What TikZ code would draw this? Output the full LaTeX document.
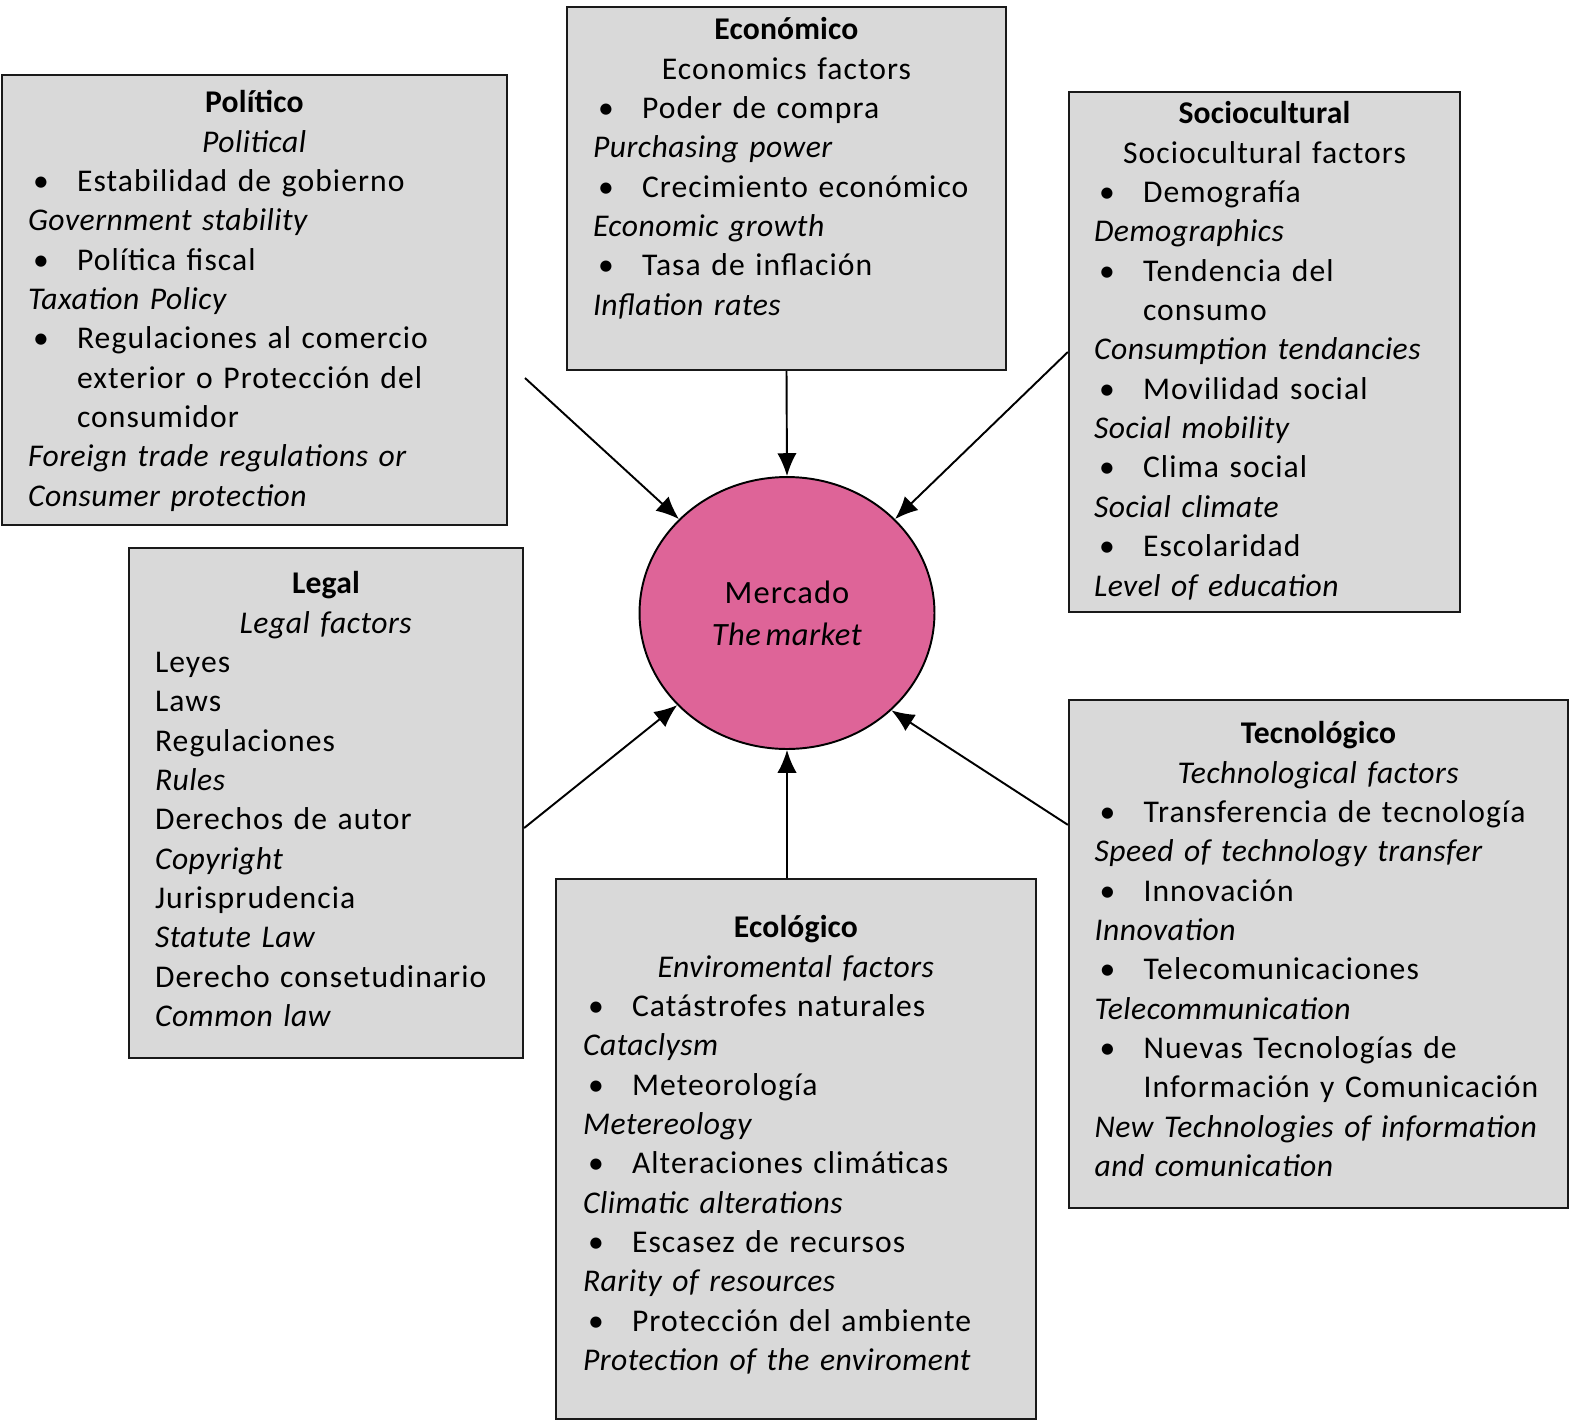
\documentclass[tikz,border=0pt]{standalone}
\usepackage{fontspec}
\setmainfont{Carlito}[UprightFeatures={LetterSpace=3.4},ItalicFeatures={LetterSpace=1.6},
  BoldFeatures={LetterSpace=0.5},WordSpace=0.6]
\usetikzlibrary{arrows.meta,shapes.geometric,fit}
\setlength{\parindent}{0pt}

\definecolor{boxgray}{RGB}{217,217,217}
\definecolor{marketpink}{RGB}{222,100,152}

% heading, bullet item and english line inside a factor box
\newcommand{\hdr}[2]{{\centering\strut\textbf{#1}\\#2\par}\raggedright}
\newcommand{\bul}[1]{\par\hangindent=0.98cm\hangafter=1\makebox[0.98cm][l]{\hspace{0.1cm}•}#1\par}
\newcommand{\eng}[1]{\textit{#1}\par}

\tikzset{
  factor/.style={draw=black!90,line width=1.3pt,fill=boxgray,inner sep=0pt},
  factortext/.style={inner sep=0pt,anchor=north,font=\fontsize{18}{22.4}\selectfont},
  pull/.style={-{Latex[length=13pt,width=11pt]},line width=1.1pt}
}

\begin{document}
\begin{tikzpicture}[x=0.02cm,y=-0.02cm]
\useasboundingbox (0,0) rectangle (1575,1424);

% boxes
\node[factor,fit={(2,75) (507,525)}] (pol) {};
\node[factor,fit={(567,7) (1006,370)}] (econ) {};
\node[factor,fit={(1069,92) (1460,612)}] (soc) {};
\node[factor,fit={(129,548) (523,1058)}] (leg) {};
\node[factor,fit={(1069,700) (1568,1208)}] (tec) {};
\node[factor,fit={(556,879) (1036,1419)}] (ecol) {};

% market
\node[ellipse,draw,line width=1.1pt,fill=marketpink,minimum width=5.9cm,minimum height=5.44cm,
  align=center,font=\fontsize{18.5}{24}\selectfont] (merc) at (787,613) {Mercado\\\textit{The market}};

% texts
\node[factortext,text width=9.06cm] (poltxt) at ([yshift=-0.22cm]pol.north) {%
\hdr{Político}{\textit{Political}}
\bul{Estabilidad de gobierno}
\eng{Government stability}
\bul{Política fiscal}
\eng{Taxation Policy}
\bul{Regulaciones al comercio\newline exterior o Protección del\newline consumidor}
\eng{Foreign trade regulations or}
\eng{Consumer protection}};

\node[factortext,text width=7.74cm] (econtxt) at ([yshift=-0.12cm]econ.north) {%
\hdr{Económico}{Economics factors}
\bul{Poder de compra}
\eng{Purchasing power}
\bul{Crecimiento económico}
\eng{Economic growth}
\bul{Tasa de inflación}
\eng{Inflation rates}};

\node[factortext,text width=6.82cm] (soctxt) at ([yshift=-0.10cm]soc.north) {%
\hdr{Sociocultural}{Sociocultural factors}
\bul{Demografía}
\eng{Demographics}
\bul{Tendencia del\newline consumo}
\eng{Consumption tendancies}
\bul{Movilidad social}
\eng{Social mobility}
\bul{Clima social}
\eng{Social climate}
\bul{Escolaridad}
\eng{Level of education}};

\node[factortext,text width=6.84cm] (legtxt) at ([yshift=-0.38cm]leg.north) {%
\hdr{Legal}{\textit{Legal factors}}
Leyes\par
Laws\par
Regulaciones\par
\eng{Rules}
Derechos de autor\par
\eng{Copyright}
Jurisprudencia\par
\eng{Statute Law}
Derecho consetudinario\par
\eng{Common law}};

\node[factortext,text width=8.96cm] (tectxt) at ([yshift=-0.34cm]tec.north) {%
\hdr{Tecnológico}{\textit{Technological factors}}
\bul{Transferencia de tecnología}
\eng{Speed of technology transfer}
\bul{Innovación}
\eng{Innovation}
\bul{Telecomunicaciones}
\eng{Telecommunication}
\bul{Nuevas Tecnologías de\newline Información y Comunicación}
\eng{New Technologies of information}
\eng{and comunication}};

\node[factortext,text width=8.52cm] (ecoltxt) at ([yshift=-0.64cm]ecol.north) {%
\hdr{Ecológico}{\textit{Enviromental factors}}
\bul{Catástrofes naturales}
\eng{Cataclysm}
\bul{Meteorología}
\eng{Metereology}
\bul{Alteraciones climáticas}
\eng{Climatic alterations}
\bul{Escasez de recursos}
\eng{Rarity of resources}
\bul{Protección del ambiente}
\eng{Protection of the enviroment}};

% arrows
\coordinate (polout) at (525,378);
\coordinate (legout) at ([yshift=-0.5cm]leg.east);
\coordinate (tecout) at ([yshift=-2.52cm]tec.north west);
\draw[pull] (polout) -- (merc.139);
\draw[pull] (econ.south) -- (merc.north);
\draw[pull] (soc.west) -- (merc.41);
\draw[pull] (legout) -- (merc.220);
\draw[pull] (merc |- ecol.north) -- (merc.south);
\draw[pull] (tecout) -- (merc.317);

\end{tikzpicture}
\end{document}
